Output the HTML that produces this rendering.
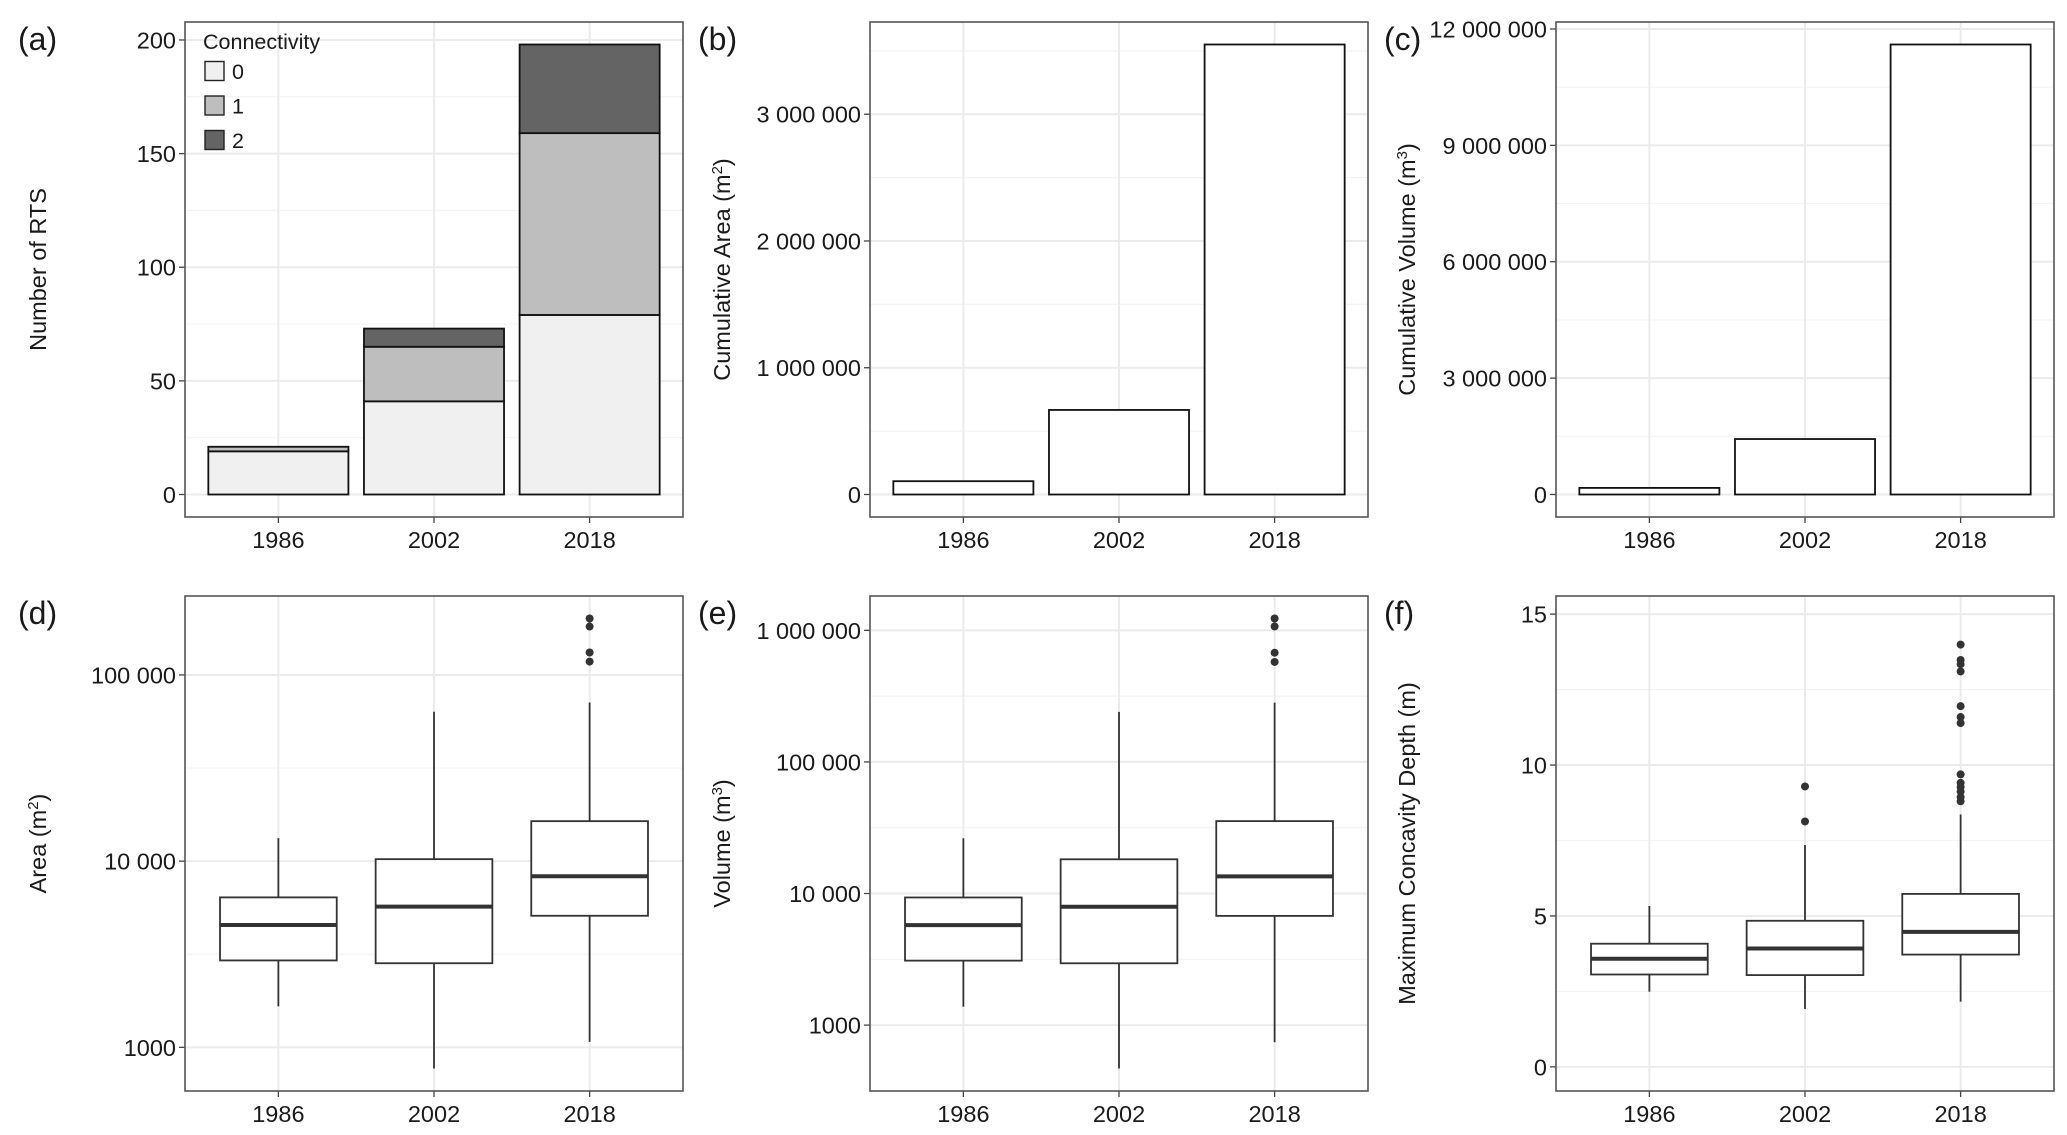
<!DOCTYPE html>
<html><head><meta charset="utf-8"><style>
html,body{margin:0;padding:0;background:#fff;}
svg text{font-family:"Liberation Sans",Arial,sans-serif;}
</style></head><body>
<svg id="fig" width="2067" height="1130" viewBox="0 0 2067 1130" xmlns="http://www.w3.org/2000/svg"></svg>
<script>
// ---- data ----
const years = ["1986","2002","2018"];
const conn0 = [19, 41, 79];
const conn1 = [2, 24, 80];
const conn2 = [0, 8, 39];
const cumArea = [105000, 667000, 3550000];
const cumVolume = [170000, 1430000, 11600000];
const areaLow = [1660, 770, 1070];
const areaQ1 = [2930, 2830, 5090];
const areaMed = [4540, 5700, 8300];
const areaQ3 = [6390, 10250, 16400];
const areaHigh = [13300, 63400, 71100];
const areaOut2018 = [201000, 182000, 132000, 118000];
const volLow = [1380, 468, 741];
const volQ1 = [3090, 2950, 6760];
const volMed = [5750, 7940, 13500];
const volQ3 = [9330, 18200, 35500];
const volHigh = [26300, 240000, 282000];
const volOut2018 = [1230000, 1070000, 676000, 575000];
const depLow = [2.49, 1.92, 2.16];
const depQ1 = [3.06, 3.04, 3.72];
const depMed = [3.58, 3.92, 4.47];
const depQ3 = [4.08, 4.84, 5.73];
const depHigh = [5.33, 7.35, 8.36];
const depOut2002 = [9.29, 8.13];
const depOut2018 = [13.99, 13.48, 13.34, 13.1, 11.95, 11.59, 11.39, 9.69, 9.41, 9.27, 9.12, 8.94, 8.8];
const ticksA = [0, 50, 100, 150, 200];
const ticksB = [0, 1000000, 2000000, 3000000];
const ticksC = [0, 3000000, 6000000, 9000000, 12000000];
const ticksLog = [1000, 10000, 100000, 1000000];
const ticksF = [0, 5, 10, 15];

const NS = "http://www.w3.org/2000/svg";
const svg = document.getElementById("fig");
function el(tag, attrs, parent, txt){
  const e = document.createElementNS(NS, tag);
  for (const k in attrs) e.setAttribute(k, attrs[k]);
  if (txt !== undefined) e.textContent = txt;
  (parent || svg).appendChild(e);
  return e;
}
function fmt(v){
  if (v < 10000) return String(v);
  return String(v).replace(/\B(?=(\d{3})+(?!\d))/g, " ");
}
const cols = [185, 870, 1556];
const W = 498;
const rows = [22, 596];
const H = 495;
const TFS = 23.5;

function makePanel(px, py, label, yfun, ticks, minor, tickFmt, title, name){
  const g = el("g", {}, svg);
  
  
  const x = i => px + (i + 0.6) / 3.2 * W;
  const y = v => py + H - yfun(v) * H;
  minor.forEach(m => {
    const l = el("line", {x1:px, x2:px+W, y1:y(m), y2:y(m), stroke:"#f3f3f3", "stroke-width":1.2}, g);
    
    
  });
  ticks.forEach(t => {
    const l = el("line", {x1:px, x2:px+W, y1:y(t), y2:y(t), stroke:"#ebebeb", "stroke-width":2}, g);
    
    
  });
  years.forEach((yr, i) => {
    const l = el("line", {x1:x(i), x2:x(i), y1:py, y2:py+H, stroke:"#ebebeb", "stroke-width":2}, g);
    
    
  });
  ticks.forEach(t => {
    el("line", {x1:px-6, x2:px, y1:y(t), y2:y(t), stroke:"#444", "stroke-width":1.3}, g);
    const tx = el("text", {x:px-9, y:y(t)+8.5, "text-anchor":"end", "font-size":TFS, fill:"#1a1a1a"}, g, tickFmt(t));
    
    
  });
  years.forEach((yr, i) => {
    el("line", {x1:x(i), x2:x(i), y1:py+H, y2:py+H+6, stroke:"#444", "stroke-width":1.3}, g);
    const tx = el("text", {x:x(i), y:py+H+31, "text-anchor":"middle", "font-size":TFS, fill:"#1a1a1a"}, g, yr);
    
    
  });
  const tt = el("text", {transform:`translate(${title.x},${py+H/2}) rotate(-90)`, "text-anchor":"middle", "font-size":23.5, fill:"#1a1a1a"}, g);
  
  
  if (title.sup){
    el("tspan", {}, tt, title.text + " (m");
    el("tspan", {"baseline-shift":"super", "font-size":15}, tt, title.sup);
    el("tspan", {}, tt, ")");
  } else tt.textContent = title.text;
  const pl = el("text", {x:label.x, y:py+28, "font-size":32, fill:"#1a1a1a"}, svg, label.t);
  
  
  return {g, x, y, border: () => {
    const b = el("rect", {x:px, y:py, width:W, height:H, fill:"none", stroke:"#555", "stroke-width":1.6}, g);
    
    
  }};
}
const bw = 0.9 / 3.2 * W;
const boxw = 0.75 / 3.2 * W;

// ---- Panel a ----
(function(){
  const tot = years.map((_, i) => conn0[i] + conn1[i] + conn2[i]);
  const mx = Math.max(...tot);
  const lo = -0.05 * mx, hi = 1.05 * mx;
  const yf = v => (v - lo) / (hi - lo);
  const p = makePanel(cols[0], rows[0], {x:18, t:"(a)"}, yf, ticksA, [25,75,125,175], fmt, {x:46, text:"Number of RTS"}, "panel-a-count");
  const fills = ["#f0f0f0", "#bebebe", "#646464"];
  const series = [conn0, conn1, conn2];
  years.forEach((yr, i) => {
    let base = 0;
    series.forEach((s, k) => {
      const v = s[i];
      if (v > 0) {
        const r = el("rect", {x:p.x(i)-bw/2, y:p.y(base+v), width:bw, height:p.y(base)-p.y(base+v), fill:fills[k], stroke:"#111", "stroke-width":1.8}, p.g);
        
        
      }
      base += v;
    });
  });
  const lg = el("g", {}, p.g);
  
  
  el("text", {x:203, y:49, "font-size":21.5, fill:"#1a1a1a"}, lg, "Connectivity");
  ["0","1","2"].forEach((t, k) => {
    const cy = 71 + k * 34.5;
    const r = el("rect", {x:205, y:cy-9.5, width:19, height:19, fill:fills[k], stroke:"#222", "stroke-width":1.4}, lg);
    
    
    el("text", {x:232, y:cy+8, "font-size":21.5, fill:"#1a1a1a"}, lg, t);
  });
  p.border();
})();

function simpleBars(col, vals, ticks, minorStep, label, title, name){
  const mx = Math.max(...vals);
  const lo = -0.05 * mx, hi = 1.05 * mx;
  const yf = v => (v - lo) / (hi - lo);
  const minor = [];
  for (let m = minorStep; m < hi; m += minorStep*2) minor.push(m);
  const p = makePanel(cols[col], rows[0], label, yf, ticks, minor, fmt, title, name);
  years.forEach((yr, i) => {
    const r = el("rect", {x:p.x(i)-bw/2, y:p.y(vals[i]), width:bw, height:p.y(0)-p.y(vals[i]), fill:"#fff", stroke:"#111", "stroke-width":1.8}, p.g);
    
    
  });
  p.border();
}
simpleBars(1, cumArea, ticksB, 500000, {x:698, t:"(b)"}, {x:730, text:"Cumulative Area", sup:"2"}, "panel-b-cumulative-area");
simpleBars(2, cumVolume, ticksC, 1500000, {x:1384, t:"(c)"}, {x:1415, text:"Cumulative Volume", sup:"3"}, "panel-c-cumulative-volume");

function boxPanel(col, stats, outliers, yf, ticks, minor, tickFmt, label, title, name){
  const p = makePanel(cols[col], rows[1], label, yf, ticks, minor, tickFmt, title, name);
  const [low, q1, med, q3, high] = stats;
  years.forEach((yr, i) => {
    const g = el("g", {}, p.g);
    
    
    const cx = p.x(i);
    el("line", {x1:cx, x2:cx, y1:p.y(high[i]), y2:p.y(q3[i]), stroke:"#333", "stroke-width":1.8}, g);
    el("line", {x1:cx, x2:cx, y1:p.y(q1[i]), y2:p.y(low[i]), stroke:"#333", "stroke-width":1.8}, g);
    el("rect", {x:cx-boxw/2, y:p.y(q3[i]), width:boxw, height:p.y(q1[i])-p.y(q3[i]), fill:"#fff", stroke:"#333", "stroke-width":1.8}, g);
    el("line", {x1:cx-boxw/2, x2:cx+boxw/2, y1:p.y(med[i]), y2:p.y(med[i]), stroke:"#333", "stroke-width":4}, g);
    (outliers[i] || []).forEach(o => {
      const c = el("circle", {cx:cx, cy:p.y(o), r:4, fill:"#333"}, g);
      
      
    });
  });
  p.border();
}
function logDomain(lowArr, outs){
  const all = lowArr.concat(...outs.filter(Boolean));
  const a = Math.log10(Math.min(...all)), b = Math.log10(Math.max(...all));
  const e = 0.05 * (b - a);
  return [a - e, b + e];
}
(function(){
  const outs = [[], [], areaOut2018];
  const [lo, hi] = logDomain(areaLow.concat(areaHigh), outs);
  const yf = v => (Math.log10(v) - lo) / (hi - lo);
  boxPanel(0, [areaLow, areaQ1, areaMed, areaQ3, areaHigh], outs, yf, ticksLog.filter(t => Math.log10(t) <= hi),
    [Math.pow(10,3.5), Math.pow(10,4.5)], fmt, {x:18, t:"(d)"}, {x:46, text:"Area", sup:"2"}, "panel-d-area");
})();
(function(){
  const outs = [[], [], volOut2018];
  const [lo, hi] = logDomain(volLow.concat(volHigh), outs);
  const yf = v => (Math.log10(v) - lo) / (hi - lo);
  boxPanel(1, [volLow, volQ1, volMed, volQ3, volHigh], outs, yf, ticksLog,
    [Math.pow(10,3.5), Math.pow(10,4.5), Math.pow(10,5.5)], fmt, {x:698, t:"(e)"}, {x:730, text:"Volume", sup:"3"}, "panel-e-volume");
})();
(function(){
  const outs = [[], depOut2002, depOut2018];
  const lo = -0.8, hi = 15.6;
  const yf = v => (v - lo) / (hi - lo);
  boxPanel(2, [depLow, depQ1, depMed, depQ3, depHigh], outs, yf, ticksF, [2.5, 7.5, 12.5], String,
    {x:1384, t:"(f)"}, {x:1415, text:"Maximum Concavity Depth (m)"}, "panel-f-depth");
})();
</script>
</body></html>
